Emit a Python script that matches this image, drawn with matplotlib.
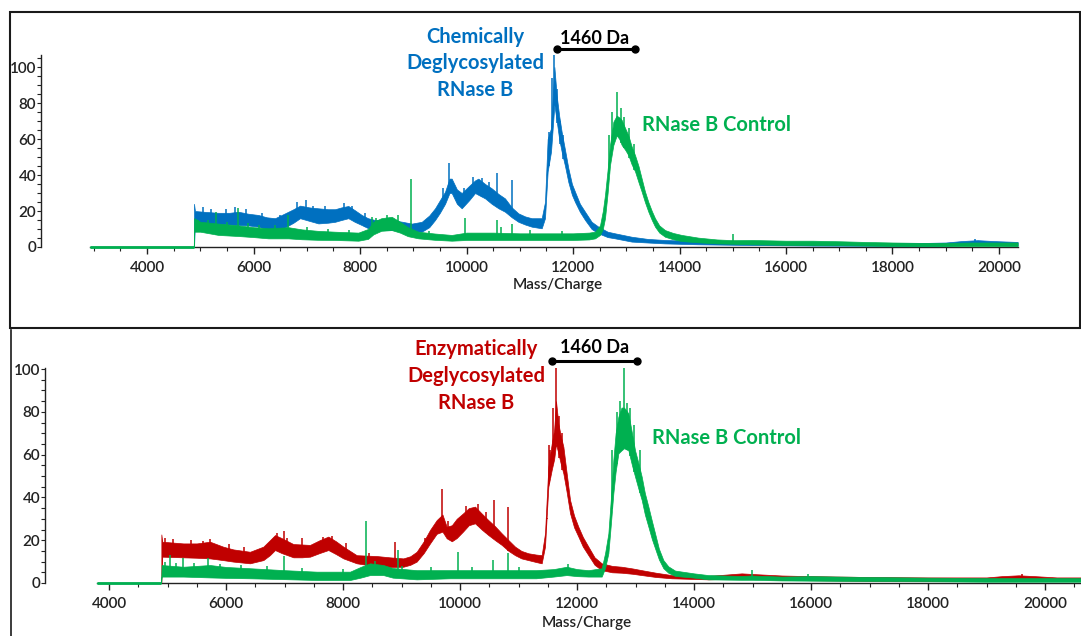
import matplotlib
matplotlib.use("Agg")
import matplotlib.pyplot as plt
import numpy as np
from matplotlib.patches import Rectangle
from matplotlib.lines import Line2D
from matplotlib.ticker import MultipleLocator

plt.rcParams['font.family'] = ['Lato', 'DejaVu Sans']

BLUE = '#0070C0'
GREEN = '#00B050'
RED = '#C00000'
INK = '#222222'

# ---- spectra: noise band (lower / upper edge) read along m/z, plus sharp spikes ----

# chemically deglycosylated RNase B (top panel)
chem_mz = [4883, 4900, 5100, 5340, 5550, 5716, 5900, 6091, 6250, 6404, 6592, 6750, 6874,
           7050, 7218, 7400, 7531, 7650, 7781, 7900, 8032, 8150, 8282, 8450, 8595, 8800,
           8971, 9159, 9300, 9409, 9500, 9597, 9680, 9722, 9820, 9910, 10050, 10160, 10222,
           10350, 10473, 10600, 10723, 10850, 10974, 11100, 11224, 11412, 11474, 11524,
           11587, 11650, 11694, 11740, 11787, 11850, 11913, 11980, 12038, 12130, 12226,
           12350, 12476, 12650, 12789, 13102, 13400, 13728, 14354, 15356, 16500, 17500,
           18500, 19000, 19300, 19600, 19900, 20350]
chem_lo = [0, 13, 13, 12.8, 12.5, 12.2, 12, 11.3, 10, 9.4, 10.9, 13.5, 16,
           14.5, 13.1, 13.5, 14, 15, 16, 14, 12.2, 10.5, 9.4, 9.4, 9.4, 9,
           8.5, 8.5, 11, 15, 19, 24, 30, 30, 24, 21.5, 26, 30, 29,
           27, 24, 21.5, 19.6, 16.5, 14, 12.5, 11.3, 10.4, 16, 42,
           53, 79, 70, 60, 53, 45, 36, 29, 25, 19.5, 15,
           10, 7.6, 5.5, 4.8, 3, 2.5, 2, 1.5, 1.1, 0.8, 0.7,
           0.6, 0.7, 1, 1.2, 1, 0.8]
chem_hi = [24, 20, 19.5, 19, 19, 19.6, 18.5, 17.8, 16.5, 16, 18.7, 21, 23,
           22, 21.5, 21, 21, 22, 22.8, 20.5, 17.8, 16, 15, 15, 15, 14,
           13, 14, 17.5, 21.5, 26, 30.7, 38, 38, 32, 30, 34, 37, 38,
           35, 32.6, 29.5, 27, 22, 18.7, 17, 16, 16, 25, 60,
           66, 100, 84, 73, 64, 54, 43.7, 35, 30.7, 24, 19.6,
           14, 11.3, 8.5, 7.6, 5.7, 4.5, 3.9, 3.3, 2.6, 2.4, 2.3,
           2.2, 2.5, 3.3, 3.8, 3.3, 2.8]
chem_spike_mz = [5050, 5200, 5480, 5650, 5850, 6150, 6500, 6820, 6987, 7120, 7350, 7700,
                 7850, 8100, 9560, 9678, 9950, 10120, 10300, 10420, 10573, 10848, 11540,
                 11612, 11650, 11700, 11760, 11820, 19550]
chem_spike_hi = [22, 21, 21, 22, 21, 19, 18, 25, 26, 23, 23, 24.5,
                 23, 19, 33, 46.5, 33, 39, 38.5, 36, 41, 37, 64,
                 94, 106.5, 88, 70, 62, 4.5]

# RNase B control (top panel)
ctrl1_mz = [2930, 4878, 4885, 5000, 5340, 5716, 6000, 6279, 6655, 6905, 7200, 7531, 7969,
            8150, 8250, 8400, 8595, 8750, 8900, 9096, 9400, 9722, 10000, 10500, 11000,
            11500, 12000, 12300, 12413, 12507, 12560, 12601, 12650, 12695, 12758, 12820,
            12870, 12914, 12980, 13040, 13100, 13165, 13230, 13290, 13350, 13415, 13480,
            13540, 13620, 13728, 13880, 14041, 14354, 14700, 15011, 15356, 16000, 16500,
            17000, 17500, 18000, 18500, 19000, 19500, 20350]
ctrl1_lo = [0, 0, 8.5, 8.5, 6.7, 6.1, 5.5, 4.8, 4.8, 4.3, 4, 3.9, 3.5,
            4.5, 7, 9, 9.4, 8, 6, 4.8, 4, 3.5, 3.9, 3.9, 3.9,
            3.9, 3.9, 4.2, 4.8, 6.7, 10, 16, 30, 45.5, 56.7, 62,
            60, 56.7, 54, 51, 46, 42, 36, 30.7, 25, 19.6, 15,
            11.3, 8, 5.7, 4.3, 3.3, 2.6, 2, 1.8, 1.5, 1.2, 1,
            1, 0.8, 0.6, 0.5, 0.5, 0.5, 0.5]
ctrl1_hi = [0, 0, 16, 14, 13, 12, 11, 10.4, 11, 9.8, 9, 8.5, 8,
            10, 14, 16, 16.8, 14, 11, 8.5, 7.5, 6.7, 8, 8, 7.6,
            7.6, 7.6, 8, 8.5, 12, 20, 29, 43, 56.7, 69.6, 73,
            72, 70.6, 66, 62, 56, 51, 45, 38, 31, 25, 20,
            16, 12, 9.4, 7.8, 6.7, 5.2, 4.2, 3.8, 3.9, 3.5, 3.5,
            3.2, 2.8, 2.5, 2.3, 2.3, 2.5, 2.5]
ctrl1_spike_mz = [4950, 5150, 5300, 5500, 5700, 5900, 6100, 6400, 6655, 7000, 7400, 7800,
                  8220, 8300, 8500, 8720, 8958, 9300, 9972, 10573, 10650, 10848, 11200,
                  11800, 12680, 12740, 12820, 12900, 12960, 13060, 13150, 15011]
ctrl1_spike_hi = [15, 15, 19.6, 14, 21.5, 13.5, 12.5, 12, 17.8, 11, 10, 9.5,
                  16.8, 16, 18, 17.8, 38, 9, 16, 15, 11.3, 13, 9.5,
                  9, 62, 75, 86, 77, 72, 66, 57, 7]

# enzymatically deglycosylated RNase B (bottom panel)
enz_mz = [4895, 4910, 5271, 5500, 5727, 5950, 6125, 6410, 6638, 6750, 6838, 6950, 7151,
          7300, 7436, 7600, 7749, 7880, 8006, 8234, 8400, 8576, 8800, 9031, 9150, 9259,
          9380, 9487, 9601, 9700, 9772, 9860, 9943, 10050, 10150, 10257, 10370, 10485,
          10600, 10713, 10830, 10941, 11050, 11168, 11300, 11396, 11453, 11510, 11567,
          11610, 11641, 11681, 11720, 11767, 11820, 11881, 11950, 12023, 12100, 12194,
          12300, 12422, 12600, 12764, 12950, 13106, 13350, 13619, 14245, 14815, 15000,
          15500, 16000, 17000, 18000, 19000, 19260, 19550, 19830, 20200, 20615]
enz_lo = [0, 12.3, 12, 11.8, 11.5, 10.7, 10, 9.2, 10.7, 13, 15.4, 14, 12,
          12, 12.3, 14, 15.4, 13.5, 11.5, 9.2, 8.5, 7.6, 7.5, 7.6, 8.5, 10,
          14, 18.5, 23, 24, 20.9, 19.5, 21, 24, 27, 27.9, 25, 22.4,
          20, 17.8, 15, 13, 11.5, 10.7, 9.8, 9.2, 17, 45, 52.8,
          58, 65, 60.6, 56, 51.2, 43, 32.6, 26, 21.7, 17, 13,
          8.5, 6, 5, 4.8, 4.3, 3.7, 2.8, 2.2, 1.7, 2.2, 2,
          1.5, 1.3, 1, 0.9, 0.9, 1.3, 1.6, 1.3, 1, 1]
enz_hi = [22.7, 19.3, 18.5, 18.5, 19.3, 17, 15.7, 14.6, 17, 20, 22.4, 21, 18.2,
          18, 17.8, 20, 21.7, 19.5, 17, 13, 12.8, 12.6, 12, 11.5, 12.5, 14.6,
          19.5, 24.8, 29.4, 32, 26.3, 27, 30, 32.5, 35, 35.7, 32.5, 29.4,
          26.5, 23.2, 20, 17, 15, 13.9, 13.3, 13, 23.2, 54.4, 65,
          72, 85, 74.6, 69, 63.7, 52, 38.8, 31.5, 26.3, 21.5, 17,
          12, 9.2, 8, 7.6, 6.8, 6, 4.8, 3.7, 3.3, 4.5, 4.2,
          3.5, 3.2, 2.8, 2.6, 2.6, 3.2, 3.6, 3.2, 2.6, 2.6]
enz_spike_mz = [4950, 5100, 5400, 5600, 5727, 6050, 6300, 6880, 6992, 7050, 7305, 7650,
                7820, 8050, 8450, 8889, 9400, 9692, 9800, 10100, 10300, 10450, 10576,
                10827, 11480, 11520, 11540, 11590, 11641, 11700, 11750, 19600]
enz_spike_hi = [21, 20.5, 20, 19.5, 20.4, 18, 17, 23.5, 24.3, 21, 21.2, 21.5,
                22, 18.5, 14, 19.3, 21, 43.8, 29, 36, 37, 33, 38.8,
                35.7, 30, 64.5, 62, 82, 100.3, 78, 70, 4]

# RNase B control (bottom panel)
ctrl2_mz = [3795, 4890, 4900, 5271, 5727, 6000, 6410, 7000, 7550, 8120, 8300, 8462, 8690,
            8850, 9259, 9829, 10300, 10800, 11300, 11600, 11824, 12000, 12194, 12422,
            12480, 12536, 12580, 12621, 12660, 12707, 12760, 12804, 12878, 12940, 12992,
            13050, 13106, 13160, 13220, 13280, 13334, 13400, 13476, 13560, 13676, 14000,
            14245, 14800, 15000, 15500, 16000, 17000, 18000, 19000, 20000, 20615]
ctrl2_lo = [0, 0, 3, 3, 2.6, 2.4, 2.2, 1.8, 1.4, 1.4, 2.5, 3.7, 3.7,
            2.5, 1.7, 2.2, 2.2, 2.2, 2.2, 3, 3.7, 3.2, 3, 3,
            7, 13.9, 28, 41.9, 52, 60.6, 62, 63, 62, 55, 49.7,
            44, 38.8, 32, 26.3, 20.5, 16.2, 11, 6.9, 4.8, 3.3, 2.5,
            1.7, 1.5, 1.5, 1.2, 1.1, 0.9, 0.8, 0.6, 0.6, 0.6]
ctrl2_hi = [0, 0, 8.4, 7.6, 8.4, 7.5, 6.9, 6, 5.3, 5.3, 7.5, 9.2, 8.4,
            7, 6, 6, 6, 6, 6, 6.5, 7.6, 6.5, 6, 6.9,
            14, 23.2, 40, 57.5, 70, 77.7, 82, 82, 79.3, 70, 62,
            56, 49.7, 42, 35.7, 29, 23.2, 16, 10.7, 7.8, 5.8, 4.5,
            3.7, 3.3, 3.5, 3, 3.2, 2.8, 2.5, 2.3, 2.3, 2.3]
ctrl2_spike_mz = [4950, 5043, 5150, 5260, 5450, 5700, 5900, 6250, 6700, 6992, 7300, 8000,
                  8393, 8550, 8935, 9000, 9500, 9972, 10200, 10570, 10827, 11000, 11850,
                  12600, 12680, 12740, 12804, 12850, 12900, 12970, 13070, 14986, 15955]
ctrl2_spike_hi = [10, 13, 9.5, 11.5, 9.5, 11.5, 9, 8.5, 8, 12.6, 7, 6.5,
                  29, 10.5, 15.4, 8, 7.5, 14.6, 7.5, 10.7, 13.9, 7.5, 9,
                  62, 80, 85, 100.3, 84, 82, 74, 62, 6, 4]

W, H = 1081, 636
fig = plt.figure(figsize=(W / 100, H / 100), dpi=100)


def draw_trace(ax, mz, lo, hi, spike_mz, spike_hi, color, lead_in=False):
    ax.fill_between(mz, lo, hi, color=color, lw=0.5, zorder=3, clip_on=False)
    base = np.interp(spike_mz, mz, lo)
    ax.vlines(spike_mz, base, spike_hi, color=color, lw=1.1, zorder=3, clip_on=False)
    if lead_in:
        # flat zero signal before acquisition starts
        ax.plot(mz[:2], lo[:2], color=color, lw=2, zorder=3, clip_on=False,
                solid_capstyle='butt')


def style_axes(ax, x0, x1, xlim, ylim, label_xy):
    ax.set_xlim(*xlim)
    ax.set_ylim(*ylim)
    for side in ('top', 'right'):
        ax.spines[side].set_visible(False)
    ax.spines['bottom'].set_bounds(x0, x1)
    ax.spines['left'].set_bounds(0, ylim[1])
    for side in ('bottom', 'left'):
        ax.spines[side].set_color(INK)
        ax.spines[side].set_linewidth(1.0)
    ax.yaxis.set_major_locator(MultipleLocator(20))
    ax.yaxis.set_minor_locator(MultipleLocator(5))
    ax.set_xticks([t for t in np.arange(4000, 20001, 2000) if t <= xlim[1]])
    ax.set_xticks([t for t in np.arange(3000, 21000, 500) if x0 <= t <= x1], minor=True)
    ax.tick_params(axis='x', which='major', length=5, width=1, color=INK, pad=5,
                   labelsize=11, labelcolor=INK)
    ax.tick_params(axis='x', which='minor', length=3, width=0.8, color=INK)
    ax.tick_params(axis='y', which='both', length=3, width=0.8, color=INK, pad=0.5,
                   labelsize=11, labelcolor=INK)
    for lab in ax.get_xticklabels() + ax.get_yticklabels():
        lab.set_fontweight('semibold')
    ax.set_xlabel('Mass/Charge', fontsize=11, fontweight='semibold', color=INK)
    ax.xaxis.set_label_coords(*label_xy)
    ax.xaxis.label.set_va('center')
    ax.patch.set_alpha(0)


# top panel: chemical deglycosylation
ax1 = fig.add_axes([41 / W, 1 - 247 / H, (1018 - 41) / W, (247 - 55) / H])
draw_trace(ax1, chem_mz, chem_lo, chem_hi, chem_spike_mz, chem_spike_hi, BLUE)
draw_trace(ax1, ctrl1_mz, ctrl1_lo, ctrl1_hi, ctrl1_spike_mz, ctrl1_spike_hi, GREEN,
           lead_in=True)
style_axes(ax1, 2930, 20357, (2009, 20357), (0, 106.7), (0.529, -0.198))
ax1.plot([11700, 11700 + 1460], [110, 110], color='black', lw=2.2, marker='o', ms=5,
         clip_on=False, zorder=4)

# bottom panel: enzymatic deglycosylation
ax2 = fig.add_axes([45 / W, 1 - 583 / H, (1081 - 45) / W, (583 - 368) / H])
draw_trace(ax2, enz_mz, enz_lo, enz_hi, enz_spike_mz, enz_spike_hi, RED)
draw_trace(ax2, ctrl2_mz, ctrl2_lo, ctrl2_hi, ctrl2_spike_mz, ctrl2_spike_hi, GREEN,
           lead_in=True)
style_axes(ax2, 3795, 20615, (2906, 20615), (0, 100.5), (0.523, -0.186))
ax2.plot([11570, 11570 + 1460], [103.7, 103.7], color='black', lw=2.2, marker='o', ms=5,
         clip_on=False, zorder=4)


def label(x, y, s, color, size=14.5):
    fig.text(x / W, 1 - y / H, s, ha='center', va='center', fontsize=size,
             fontweight='bold', color=color)


label(475, 37, 'Chemically', BLUE)
label(475, 63, 'Deglycosylated', BLUE)
label(475, 90, 'RNase B', BLUE)
label(595, 38, '1460 Da', 'black', 13)
label(717, 125, 'RNase B Control', GREEN)

label(476, 349, 'Enzymatically', RED)
label(476, 376, 'Deglycosylated', RED)
label(476, 403, 'RNase B', RED)
label(595, 347, '1460 Da', 'black', 13)
label(727, 438, 'RNase B Control', GREEN)

# panel frames
fig.add_artist(Rectangle((10 / W, 1 - 328 / H), 1070 / W, 316 / H, transform=fig.transFigure,
                         fill=False, ec='#1a1a1a', lw=1.5))
fig.add_artist(Line2D([10.5 / W, 10.5 / W], [0, 1 - 330 / H], transform=fig.transFigure,
                      color='#1a1a1a', lw=1.2))

fig.savefig('out.png', dpi=100)
